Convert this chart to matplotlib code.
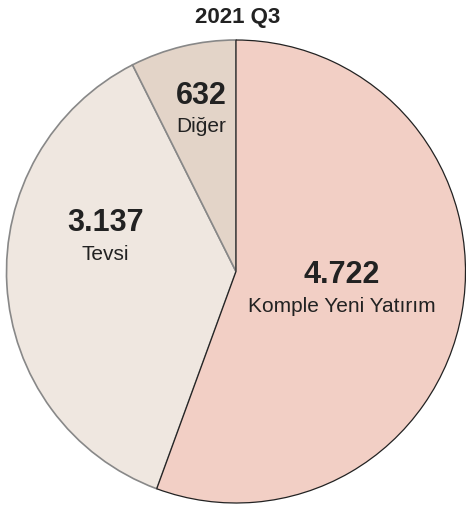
import matplotlib.pyplot as plt

# 2021 Q3 yatirim dagilimi
labels = ['Komple Yeni Yatırım', 'Tevsi', 'Diğer']
values = [4722, 3137, 632]
value_txt = ['4.722', '3.137', '632']
colors = ['#f2cfc5', '#efe7e0', '#e3d4c8']
edges = ['#222222', '#888888', '#888888']

fig = plt.figure(figsize=(4.66, 5.09), dpi=100)
ax = fig.add_axes([0.01395, 0.01179, 0.985, 0.9096])

wedges, _ = ax.pie(values, colors=colors, startangle=90, counterclock=False,
                   wedgeprops=dict(linewidth=1.2))
for w, e in zip(wedges, edges):
    w.set_edgecolor(e)
wedges[0].set_zorder(3)
wedges[0].set_linewidth(0.9)
ax.set_xlim(-1, 1)
ax.set_ylim(-1, 1)
ax.set_aspect('auto')

# label positions in data coords (radius = 1)
pos = [(0.46, -0.015), (-0.57, 0.21), (-0.15, 0.76)]
for (x, y), v, l in zip(pos, value_txt, labels):
    ax.text(x, y, v, ha='center', va='center', fontsize=22, fontweight='bold',
            color='#222222', family=['Liberation Sans', 'DejaVu Sans'])
    ax.text(x, y - 0.135, l, ha='center', va='center', fontsize=15,
            color='#222222', family=['Liberation Sans Narrow', 'Liberation Sans', 'DejaVu Sans'])

fig.text(0.509, 0.966, '2021 Q3', ha='center', va='center', fontsize=16,
         fontweight='bold', color='#222222', family=['Liberation Sans', 'DejaVu Sans'])

fig.savefig('out.png', dpi=100)
